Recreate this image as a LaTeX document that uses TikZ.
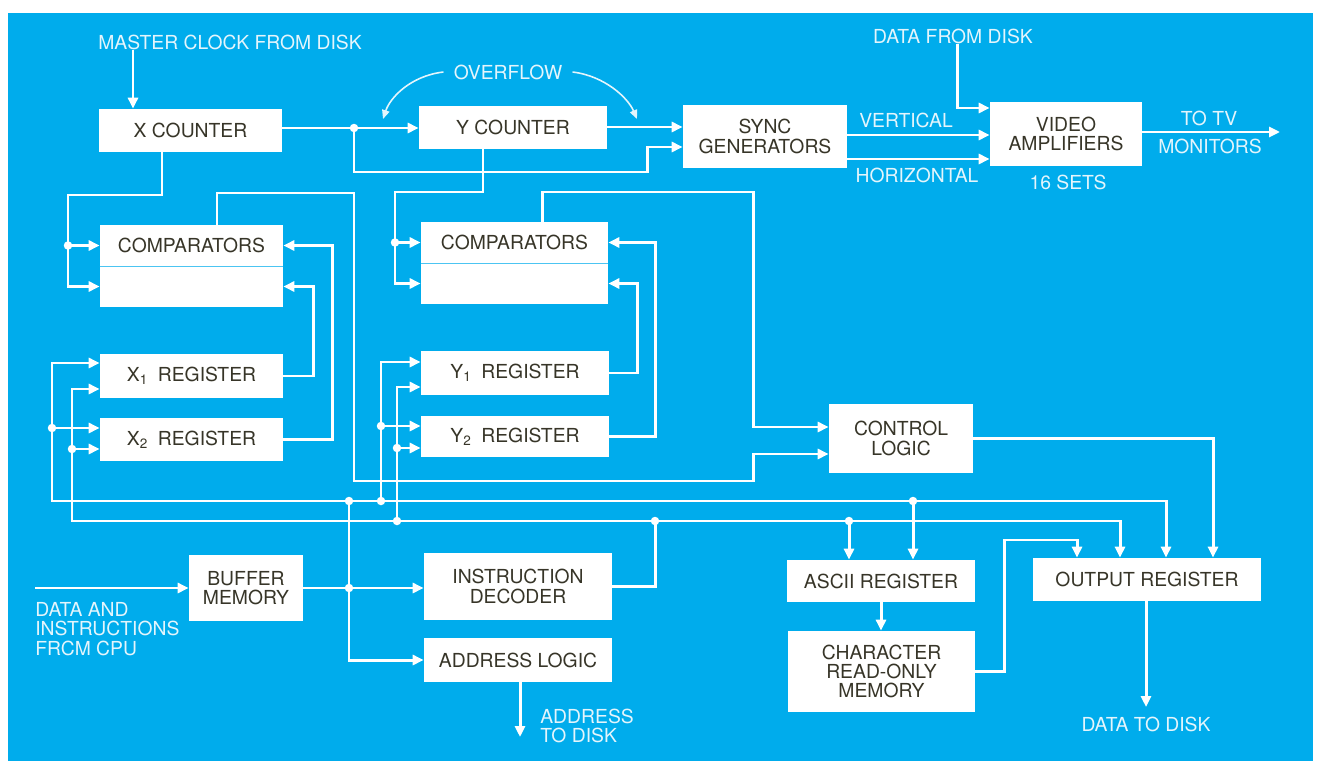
\documentclass[tikz,border=0pt]{standalone}
\usepackage{fontspec}
\setmainfont{TeX Gyre Heros}
\usetikzlibrary{positioning, arrows.meta}

\definecolor{panelblue}{RGB}{0,172,236}
\definecolor{boxink}{RGB}{55,53,40}
\definecolor{labelwhite}{RGB}{228,245,252}

\begin{document}
\begin{tikzpicture}[x=0.02cm, y=-0.02cm, >={Triangle[length=2.2mm,width=2mm]},
    font=\fontsize{11}{11}\selectfont,
    blk/.style={fill=white, text=boxink, inner sep=0pt, align=center},
    lbl/.style={text=labelwhite, inner sep=0pt, align=left},
    wire/.style={draw=white, line width=1.7pt},
    feed/.style={wire, ->},
    ovfarrow/.style={draw=labelwhite, line width=0.9pt, -{Triangle[length=1.8mm,width=1.5mm]}},
    jdot/.style={circle, fill=white, inner sep=0pt, minimum size=1.7mm},
    divider/.style={draw=panelblue!70, line width=0.5pt}]

    % Parameter (Pixelraster der Vorlage)
    \def\busA{501}     % Datenbus vom Pufferspeicher
    \def\busB{521}     % Bus vom Befehlsdecoder
    \def\cmpX{354}     % Steigleitung Komparator -> Steuerlogik
    \def\ctlX{753}     % Einspeisung Steuerlogik

    % Rahmen und Flaeche
    \useasboundingbox (0,0) rectangle (1325,767);
    \fill[white] (0,0) rectangle (1325,767);
    \fill[panelblue] (8,13) rectangle (1313,761);

    % --- Bloecke ---
    \node[blk, minimum width=3.66cm, minimum height=0.86cm] (xcnt) at (190.5,130.5) {X COUNTER};
    \node[blk, minimum width=3.76cm, minimum height=0.86cm] (ycnt) at (513,127.5) {Y COUNTER};
    \node[blk, minimum width=3.28cm, minimum height=1.26cm] (sync) at (765,136.5) {SYNC\\GENERATORS};
    \node[blk, minimum width=3.04cm, minimum height=1.28cm] (video) at (1066,134) {VIDEO\\AMPLIFIERS};

    \node[blk, minimum width=3.66cm, minimum height=0.82cm] (xcmpa) at (191.5,245.5) {COMPARATORS};
    \node[blk, minimum width=3.66cm, minimum height=0.82cm] (xcmpb) at (191.5,286.5) {};
    \node[blk, minimum width=3.74cm, minimum height=0.82cm] (ycmpa) at (514.5,242.5) {COMPARATORS};
    \node[blk, minimum width=3.74cm, minimum height=0.82cm] (ycmpb) at (514.5,283.5) {};
    \draw[divider] (xcmpa.south west) -- (xcmpa.south east);
    \draw[divider] (ycmpa.south west) -- (ycmpa.south east);

    \node[blk, minimum width=3.66cm, minimum height=0.88cm] (xone) at (191.5,376) {X\textsubscript{1}\enspace REGISTER};
    \node[blk, minimum width=3.66cm, minimum height=0.86cm] (xtwo) at (191.5,439.5) {X\textsubscript{2}\enspace REGISTER};
    \node[blk, minimum width=3.76cm, minimum height=0.88cm] (yone) at (515,373) {Y\textsubscript{1}\enspace REGISTER};
    \node[blk, minimum width=3.76cm, minimum height=0.82cm] (ytwo) at (515,436.5) {Y\textsubscript{2}\enspace REGISTER};
    \node[blk, minimum width=2.88cm, minimum height=1.38cm] (ctrl) at (901,438.5) {CONTROL\\LOGIC};

    \node[blk, minimum width=2.28cm, minimum height=1.32cm] (buf) at (246,588) {BUFFER\\MEMORY};
    \node[blk, minimum width=3.76cm, minimum height=1.34cm] (idec) at (518,586.5) {INSTRUCTION\\DECODER};
    \node[blk, minimum width=3.76cm, minimum height=0.88cm] (addr) at (518,660) {ADDRESS LOGIC};
    \node[blk, minimum width=3.76cm, minimum height=0.84cm] (ascii) at (881,581) {ASCII REGISTER};
    \node[blk, minimum width=3.74cm, minimum height=1.62cm] (crom) at (881.5,671.5) {CHARACTER\\READ-ONLY\\MEMORY};
    \node[blk, minimum width=4.56cm, minimum height=0.86cm] (outr) at (1147,579.5) {OUTPUT REGISTER};

    % --- Beschriftungen ---
    \node[lbl] (clklbl) at (230,42) {MASTER CLOCK FROM DISK};
    \node[lbl] (ovf) at (508,72) {OVERFLOW};
    \node[lbl] (dfd) at (953,36) {DATA FROM DISK};
    \node[lbl] (vert) at (906,120) {VERTICAL};
    \node[lbl] (horiz) at (917,175) {HORIZONTAL};
    \node[lbl] (tvtop) at (1209,118) {TO TV};
    \node[lbl] (tvbot) at (1210,146) {MONITORS};
    \node[lbl] (sets) at (1068,182) {16 SETS};
    \node[lbl, anchor=west, font=\fontsize{11}{11.3}\selectfont] (cpulbl) at (35,629) {DATA AND\\INSTRUCTIONS\\FRCM CPU};
    \node[lbl, anchor=west] (adrlbl) at (540,726) {ADDRESS\\TO DISK};
    \node[lbl] (dtd) at (1146,724) {DATA TO DISK};

    % freie Enden
    \coordinate (tv) at (1280,132);
    \coordinate (cpuin) at (35,588);
    \coordinate (adrout) at (520,737);
    \coordinate (dtdout) at (1146,707);

    % Knotenpunkte
    \node[jdot] (jx) at (\cmpX,128) {};
    \node[jdot] (jxc) at (68,245.5) {};
    \node[jdot] (jyc) at (395,242.5) {};
    \node[jdot] (bufa) at (349,\busA) {};
    \node[jdot] (bufo) at (349,588) {};
    \node[jdot] (ya) at (381,\busA) {};
    \node[jdot] (asa) at (913,\busA) {};
    \node[jdot] (xa2) at (52,428) {};
    \node[jdot] (ya2) at (381,426) {};
    \node[jdot] (decb) at (655,\busB) {};
    \node[jdot] (yb) at (397,\busB) {};
    \node[jdot] (asb) at (849,\busB) {};
    \node[jdot] (xb2) at (72,449) {};
    \node[jdot] (yb2) at (397,448) {};

    % --- Zaehler und Synchronisation ---
    \draw[feed] (clklbl.south -| 133,0) -- (xcnt.north -| 133,0);
    \draw[feed] (xcnt.east |- jx) -- (ycnt.west |- jx);
    \draw[feed] (jx.center) |- (647,172) |- (sync.west |- 0,147);
    \draw[feed] (ycnt.east |- 0,127) -- (sync.west |- 0,127);
    \draw[feed] (sync.east |- 0,135) -- (video.west |- 0,135);
    \draw[feed] (sync.east |- 0,159) -- (video.west |- 0,159);
    \draw[feed] (dfd.south -| 957,0) |- (video.west |- 0,108);
    \draw[feed] (video.east |- tv) -- (tv);
    \draw[ovfarrow] ([xshift=-0.2cm]ovf.west) .. controls (410,76) and (390,98) .. (383,119);
    \draw[ovfarrow] ([xshift=0.2cm]ovf.east) .. controls (605,76) and (628,98) .. (637,119);

    % --- Zaehler -> Komparatoren ---
    \draw[feed] (xcnt.south -| 162,0) |- (68,195) |- (xcmpb.west);
    \draw[feed] (jxc.center) -- (xcmpa.west);
    \draw[feed] (ycnt.south -| 483,0) |- (395,192) |- (ycmpb.west);
    \draw[feed] (jyc.center) -- (ycmpa.west);

    % Register -> Komparatoren
    \draw[feed] (xone.east) -| ([xshift=0.6cm]xcmpb.east) -- (xcmpb.east);
    \draw[feed] (xtwo.east) -| ([xshift=0.98cm]xcmpa.east) -- (xcmpa.east);
    \draw[feed] (yone.east) -| ([xshift=0.58cm]ycmpb.east) -- (ycmpb.east);
    \draw[feed] (ytwo.east) -| ([xshift=0.94cm]ycmpa.east) -- (ycmpa.east);

    % Komparatoren -> Steuerlogik -> Ausgaberegister
    \draw[feed] (xcmpa.north -| 217,0) |- (\cmpX,193) |- (\ctlX,481) |- (ctrl.west |- 0,454);
    \draw[feed] (ycmpa.north -| 542,0) |- (\ctlX,192) |- (ctrl.west |- 0,427);
    \draw[feed] (ctrl.east) -| (outr.north -| 1213,0);

    % --- Pufferspeicher und Bus A ---
    \draw[feed] (cpuin) -- (buf.west);
    \draw[feed] (buf.east) -- (idec.west |- buf.east);
    \draw[feed] (bufa.center) |- (addr.west);
    \draw[feed] (addr.south -| adrout) -- (adrout);
    \draw[feed] (bufa.center) -| (52,363) -- (xone.west |- 0,363);
    \draw[feed] (xa2.center) -- (xtwo.west |- xa2);
    \draw[feed] (bufa.center) -| (outr.north -| 1166,0);
    \draw[feed] (ya.center) |- (yone.west |- 0,362);
    \draw[feed] (ya2.center) -- (ytwo.west |- ya2);
    \draw[feed] (asa.center) -- (ascii.north -| asa);

    % --- Befehlsdecoder und Bus B ---
    \draw[wire] (idec.east) -| (decb.center);
    \draw[feed] (decb.center) -| (72,389) -- (xone.west |- 0,389);
    \draw[feed] (xb2.center) -- (xtwo.west |- xb2);
    \draw[feed] (decb.center) -| (outr.north -| 1120,0);
    \draw[feed] (yb.center) |- (yone.west |- 0,387);
    \draw[feed] (yb2.center) -- (ytwo.west |- yb2);
    \draw[feed] (asb.center) -- (ascii.north -| asb);

    % --- Zeichengenerator ---
    \draw[feed] (ascii.south) -- (crom.north -| ascii.south);
    \draw[feed] (crom.east) -| (1004,540) -| (outr.north -| 1077,0);
    \draw[feed] (outr.south -| dtdout) -- (dtdout);

\end{tikzpicture}
\end{document}
